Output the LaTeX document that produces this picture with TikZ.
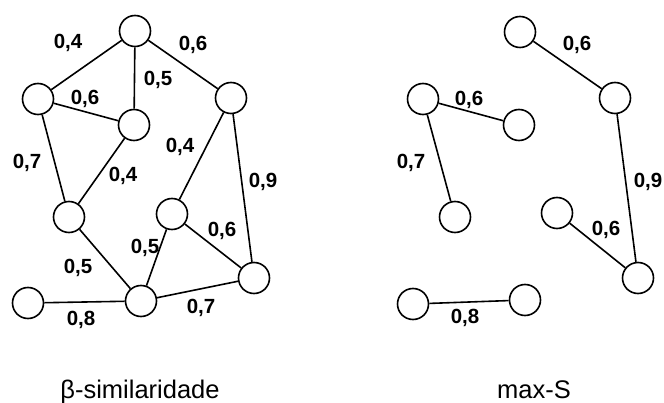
\documentclass[tikz,border=0pt]{standalone}
\usepackage{fontspec}
\setmainfont{Liberation Sans}
\begin{document}
\begin{tikzpicture}[x=1pt,y=-1pt,
  vert/.style={circle,draw,line width=1.6pt,minimum size=31pt,inner sep=0pt,fill=white},
  link/.style={line width=1.6pt},
  wt/.style={font=\fontsize{20.5}{20.5}\selectfont\bfseries,inner sep=0pt},
  caption/.style={font=\fontsize{25.5}{25.5}\selectfont,inner sep=0pt,anchor=base}]
\useasboundingbox (0,0) rectangle (664,403);

% left graph: beta-similarity
\node[vert] (A) at (135,31) {};
\node[vert] (B) at (38,99) {};
\node[vert] (C) at (134,125) {};
\node[vert] (D) at (231,98) {};
\node[vert] (E) at (69,217) {};
\node[vert] (F) at (172,214) {};
\node[vert] (G) at (254,278) {};
\node[vert] (H) at (141,301) {};
\node[vert] (I) at (28,303) {};
\draw[link] (A) -- (B);
\draw[link] (A) -- (C);
\draw[link] (A) -- (D);
\draw[link] (B) -- (C);
\draw[link] (B) -- (E);
\draw[link] (C) -- (E);
\draw[link] (D) -- (F);
\draw[link] (D) -- (G);
\draw[link] (E) -- (H);
\draw[link] (F) -- (H);
\draw[link] (F) -- (G);
\draw[link] (H) -- (G);
\draw[link] (I) -- (H);

\node[wt] (wAB) at (68,43) {0,4};
\node[wt] (wAD) at (193,45) {0,6};
\node[wt] (wAC) at (158,80) {0,5};
\node[wt] (wBC) at (85,99) {0,6};
\node[wt] (wDF) at (180,147) {0,4};
\node[wt] (wBE) at (27,163) {0,7};
\node[wt] (wCE) at (123,176) {0,4};
\node[wt] (wDG) at (263,182) {0,9};
\node[wt] (wFG) at (222,231) {0,6};
\node[wt] (wFH) at (145,248) {0,5};
\node[wt] (wEH) at (78,268) {0,5};
\node[wt] (wHG) at (201,308) {0,7};
\node[wt] (wIH) at (81,320) {0,8};

% right graph: max-S
\node[vert] (a) at (520,32) {};
\node[vert] (b) at (615,98) {};
\node[vert] (c) at (423,99) {};
\node[vert] (d) at (519,125) {};
\node[vert] (e) at (455,217) {};
\node[vert] (f) at (557,213) {};
\node[vert] (g) at (638,278) {};
\node[vert] (h) at (413,304) {};
\node[vert] (i) at (525,300) {};
\draw[link] (a) -- (b);
\draw[link] (c) -- (d);
\draw[link] (c) -- (e);
\draw[link] (b) -- (g);
\draw[link] (f) -- (g);
\draw[link] (h) -- (i);

\node[wt] (wab) at (577,45) {0,6};
\node[wt] (wcd) at (469,100) {0,6};
\node[wt] (wce) at (411,163) {0,7};
\node[wt] (wbg) at (648,182) {0,9};
\node[wt] (wfg) at (606,230) {0,6};
\node[wt] (whi) at (465,318) {0,8};

% captions
\node[caption] (capL) at (140,398) {β-similaridade};
\node[caption] (capR) at (534,398) {max-S};
\end{tikzpicture}
\end{document}
